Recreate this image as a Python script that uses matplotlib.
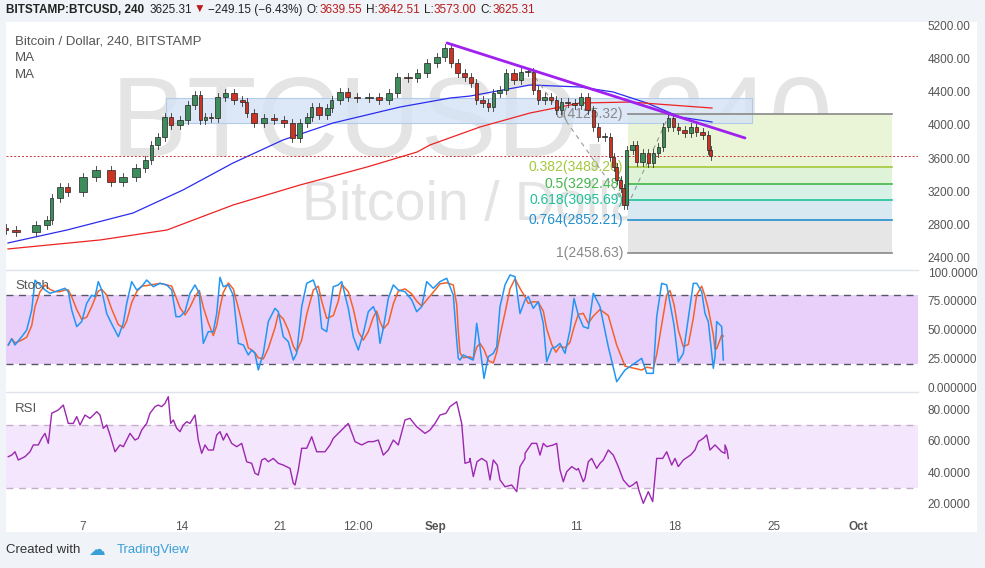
import matplotlib
matplotlib.use("Agg")
import matplotlib.pyplot as plt
import numpy as np

plt.rcParams['font.family'] = ['Liberation Sans', 'DejaVu Sans']
W, H = 985, 568
# ---------------- data (x positions in reference pixels, converted to days) ----------------
t_px = [8,20,40,50,53,63,70,87,100,115,127,140,148,153,160,167,173,183,190,197,202,207,213,220,228,237,245,248,257,267,
        277,287,295,302,310,313,322,330,333,343,350,360,373,382,392,400,412,420,430,440,447,453,460,467,473,478,485,490,495,502,
        508,517,523,530,535,540,547,553,558,563,570,577,583,590,595,600,607,612,615,618,622,625,628,635,638,645,650,655,660,665,
        670,675,680,687,693,698,705,710,712]
closes = [2736,2712,2796,2856,3120,3253,3193,3373,3457,3313,3373,3481,3577,3758,3854,4094,3998,4058,4238,4358,4058,4094,4082,4334,4382,4298,4274,4142,4022,4082,
          4058,4022,3842,4022,4094,4214,4118,4202,4298,4394,4334,4322,4334,4298,4382,4575,4563,4623,4743,4815,4924,4743,4623,4575,4503,4298,4262,4214,4382,4419,
          4623,4539,4635,4635,4419,4298,4334,4298,4178,4274,4262,4238,4334,4178,3974,3854,3854,3613,3493,3337,3241,3036,3697,3758,3553,3661,3541,3661,3734,3974,
          4082,3974,3938,3902,3974,3914,3878,3697,3625]
first_open = 2760

ma_blue_px = [8,67,133,183,233,283,333,400,450,470,530,580,613,647,680,712]
ma_blue = [2580,2736,2940,3217,3541,3818,4022,4214,4322,4346,4479,4455,4395,4262,4094,4034]
ma_red_px = [8,100,167,233,300,367,417,430,480,530,580,630,712]
ma_red = [2508,2616,2736,3036,3277,3493,3673,3758,3974,4142,4262,4274,4202]

stoch_px = [8.3,11.7,15,21.7,26.7,31.7,35,40,45,50,55,60,65,68.3,71.7,76.7,81.7,86.7,91.7,95,98.3,101.7,106.7,111.7,118.3,123.3,126.7,131.7,136.7,141.7,
            146.7,153.3,160,166.7,171.7,176,180,185,190,195,199.3,203.3,208.3,213.3,216.7,220,223.3,228.3,233.3,238.3,243.3,248.3,251.7,255,258.3,263.3,268.3,275,278.3,283.3,
            288.3,293.3,296.7,301.7,306.7,313.3,318.3,321.7,326.7,333.3,338.3,341.7,348.3,353.3,358.3,363.3,368.3,373.3,376.7,380,383.3,388.3,393.3,398.3,405,411.7,416.7,421.7,426.7,433.3,
            440,446.7,453.3,456.7,458.3,463.3,469.3,
            460,466.7,473.3,476.7,480,484,488.3,493.3,496.7,500,505,510,515,520,525,528.3,533.3,538.3,543.3,546.7,551.7,556,560,565,570,574,578.3,583.3,588.3,593.3,
            600,608.3,616.7,625,641.7,646.7,653.3,656.7,661.7,666.7,670,674,678.3,683.3,688.3,693.3,696.7,701.7,705,708.3,713.3,715,716.7,721.7,723.3]
stoch_k = [36.6,42,36.6,43.8,49.6,67,93,89,84.5,81.6,83,84.5,86,83,67,52.6,57,72.9,80,78.7,91.8,84.5,64,55,43.8,55.5,72.9,91.8,84.5,87.4,
           93.2,87.4,90.3,88.9,84.5,61.3,61.3,65.6,81.6,88.9,81.6,38,48.2,48.2,64,95.5,87.4,88.9,80,38,36.6,27.9,32.2,29.3,14.8,29.3,57,68.5,65.6,43.8,
           39.5,23.5,29.3,70,90.3,93.2,80,51,48.2,87.4,88.9,91.8,68.5,43.8,32.2,46.7,65.6,70,62.7,38,51,77.2,88.9,84.5,83,75.8,65.6,70,91.8,86,
           91.8,94.7,80,40.9,25,27.9,25,
           23.5,26.4,23.5,55.5,35,7.5,26.4,29.3,35,70,88.9,97.6,96.1,64,75.8,78.7,68.5,74.3,55.5,22,33.7,35,38,29.3,49.6,77.2,62.7,52.6,51,81.6,
           70,35,4.6,14.8,25,11.9,11.9,61.3,90.3,88.9,72.9,54,22,29.3,59.8,90.3,90.3,83,64,57,16.3,26.4,57,52.6,23.5,23.5,26.4,14.8,10.5]

rsi_px = [8.3,11.7,15,18.3,25,30,33.3,38.3,41.7,45,48.3,51.7,58.3,63.3,68.3,73.3,76.7,80,85,90,96.7,100,103.3,106.7,110,115,120,123.3,126.7,130,
          135,138.3,141.7,146.7,150,155,158.3,161.7,165,168.3,170.7,173.3,176.7,180,183.3,186.7,190,195,198.3,201.7,205,208.3,213.3,216.7,220,223.3,226.7,231.7,236.7,241.7,
          246.7,251.7,255,258.3,261.7,265,268.3,273.3,278.3,283.3,290,293.3,295,298.3,301.7,306.7,311.7,316.7,325,330,333.3,340,343.3,348.3,353.3,355,361.7,368.3,
          373.3,378.3,383.3,388.3,393.3,398.3,405,410,416.7,425,430,435,440,446,450,456.7,461.7,465,470,
          470,473.3,477,481.7,486.7,490,493.3,497.3,500,505,511.7,516.7,520,525,525,531.7,536.7,540,543.3,546.7,553.3,556.7,560,563.3,566.7,571.7,576.7,578.3,583.3,585,
          588.3,591.7,596.7,600,603.3,608.3,613.3,618.3,623.3,629.3,632.7,636.7,639.3,643.3,648.3,652.7,656.7,662.7,666.7,671.7,675,678.3,683.3,690.7,695,698.3,703.3,706.7,710,715,
          721.7,725,727,725,728.3]
rsi = [49.9,50.9,53,47.8,49.9,53,57.3,57.3,61.5,64.6,58.3,77.3,79.4,82.5,70.9,70.9,75.2,69.9,76.2,74.1,78.3,76.2,67.8,69.9,63.6,53,57.3,56.2,60.4,64.6,
       60.4,61.5,66.7,70.9,77.3,81.5,82.5,81.5,83.6,87.8,70.9,73.1,67.8,65.7,69.9,72,70.9,76.2,60.4,52,57.3,54.1,54.1,63.6,65.7,60.4,64.6,58.3,56.2,58.3,
       46.7,45.7,39.4,38.3,47.8,48.8,46.7,48.8,45.7,44.6,42.5,33.1,32,41.5,55.2,55.2,62.5,53,53,57.3,61.5,65.7,67.8,70.9,62.5,59.4,57.3,59.4,
       59.4,60.4,50.9,54.1,60.4,57.3,73.1,74.1,68.8,64.6,66.7,70.9,76.2,77.3,81.5,84.6,70.9,45.7,46.7,48.8,37.3,
       46.7,48.8,46.7,35.2,47.8,44.6,35.2,30.9,32,27.8,43.6,48.8,52,58.3,58.3,50.9,58.3,56.2,57.3,58.3,41.5,34.1,40.4,43.6,41.5,42.5,34.1,36.2,46.7,48.8,
       42.5,45.7,47.8,54.1,50.9,43.6,35.2,30.9,32,34.1,27.8,20.4,27.8,21.5,48.8,48.8,53,44.6,48.8,43.6,47.8,51,54.1,59.4,61.5,63.6,54.1,57.3,53,52,
       54.1,57.3,48.8,51,48.8,38.9,38.9]

fib_ratios = [0, 0.382, 0.5, 0.618, 0.764, 1]
fib_prices = [4125.32, 3489.20, 3292.48, 3095.69, 2852.21, 2458.63]
price_ticks = [2400, 2800, 3200, 3600, 4000, 4400, 4800, 5200]
date_ticks = [6, 13, 20, 25.5, 31, 41, 48, 55, 61]
date_labels = ["7", "14", "21", "12:00", "Sep", "11", "18", "25", "Oct"]
header_parts = [("BITSTAMP:BTCUSD, 240", "#222222", "bold"), ("3625.31", "#222222", "normal"),
                ("▼", "#b71c1c", "normal"), ("−249.15 (−6.43%)", "#222222", "normal"),
                ("O:", "#222222", "normal"), ("3639.55", "#b71c1c", "normal"),
                ("H:", "#222222", "normal"), ("3642.51", "#b71c1c", "normal"),
                ("L:", "#222222", "normal"), ("3573.00", "#b71c1c", "normal"),
                ("C:", "#222222", "normal"), ("3625.31", "#b71c1c", "normal")]
header_gap = [0, 5, 2, 3, 4, 0, 4, 0, 4, 0, 4, 0]

# ---------------- helpers ----------------
def px2t(x):
    return (np.asarray(x, float) + 2) / 14.1

fig = plt.figure(figsize=(W/100, H/100), dpi=100)
fig.patch.set_facecolor("#f0f3f7")

def ax_at(x0, y0, x1, y1):
    return fig.add_axes([x0/W, 1-y1/H, (x1-x0)/W, (y1-y0)/H])

XL = (px2t(6), px2t(918))
bg = ax_at(6, 22, 977, 532)
bg.set_facecolor("white"); bg.set_xticks([]); bg.set_yticks([])
for s in bg.spines.values(): s.set_visible(False)

ax = ax_at(6, 22, 918, 270)
ax2 = ax_at(6, 270, 918, 392)
ax3 = ax_at(6, 392, 918, 515)
for a in (ax, ax2, ax3):
    a.set_xlim(*XL)
    a.patch.set_alpha(0)
    for s in a.spines.values(): s.set_visible(False)
    a.yaxis.tick_right()
    a.tick_params(axis="y", length=0, labelsize=8.5, labelcolor="#555555", pad=7)
    a.tick_params(axis="x", length=0, labelsize=8.5, labelcolor="#555555")
    a.set_xticks([])
for yy in (270, 392):
    fig.add_artist(plt.Line2D([6/W, 918/W], [1-yy/H]*2, color="#e0e3eb", lw=1))

# ---------------- main price panel ----------------
ax.set_ylim(5200 - (270-25)*12.02, 5200 + 3*12.02)
ax.set_yticks(price_ticks)
ax.set_yticklabels([f"{p:.2f}" for p in price_ticks])

ax.text(466/912, 0.58, "BTCUSD, 240", transform=ax.transAxes, ha="center", va="center",
        fontsize=82, color="#e4e4e4", zorder=0)
ax.text(475/912, 0.26, "Bitcoin / Dollar", transform=ax.transAxes, ha="center", va="center",
        fontsize=40, color="#e4e4e4", zorder=0)

fx0, fx1 = px2t(628), px2t(892)
fill_cols = ["#eaf4d6", "#def3d8", "#d8f1e7", "#d9e9f2", "#e6e6e6"]
line_cols = ["#888888", "#a5c93c", "#43b649", "#20c19a", "#2390d0", "#888888"]
for i in range(5):
    ax.fill_between([fx0, fx1], fib_prices[i+1], fib_prices[i], color=fill_cols[i], zorder=1, lw=0)
for r, p, c in zip(fib_ratios, fib_prices, line_cols):
    ax.plot([fx0, fx1], [p, p], color=c, lw=1.2, zorder=2)
    ax.text(px2t(623), p, f"{r:g}({p:.2f})", color=c, fontsize=10, ha="right", va="center", zorder=2)

ax.fill_between([px2t(166), px2t(752)], 4022, 4322, color="#d4e3f5", alpha=0.8, zorder=1, lw=0)
ax.plot([px2t(166), px2t(752), px2t(752), px2t(166), px2t(166)], [4022, 4022, 4322, 4322, 4022],
        color="#b3cbe8", lw=0.8, zorder=1)

ax.plot(px2t(ma_blue_px), ma_blue, color="#2b2bf0", lw=0.9, zorder=3)
ax.plot(px2t(ma_red_px), ma_red, color="#ee2222", lw=0.9, zorder=3)

tt = px2t(t_px)
opens = [first_open] + closes[:-1]
gaps = np.diff(np.concatenate([[tt[0] - 0.5], tt]))
for ti, g, o, c in zip(tt, gaps, opens, closes):
    up = c >= o
    fc = "#3c8c5c" if up else "#cc3322"
    lo, hi = min(o, c), max(o, c)
    w = min(max(0.65 * g, 0.18), 0.55)
    ax.plot([ti - w/2, ti - w/2], [lo - 45, hi + 45], color="#333333", lw=0.6, zorder=4)
    ax.add_patch(plt.Rectangle((ti - w, lo), w, max(hi - lo, 8), facecolor=fc,
                               edgecolor="#222222", lw=0.5, zorder=5))

ax.axhline(3625.31, color="#cc3333", lw=0.7, ls=(0, (2, 2)), zorder=3)
ax.plot([px2t(530), px2t(627), px2t(670)], [4659, 3012, 4142], color="#999999", lw=0.8,
        ls=(0, (4, 4)), zorder=3)
ax.plot([px2t(447), px2t(745)], [4984, 3842], color="#a020f0", lw=2, zorder=6, solid_capstyle="round")

ax.text(9/912, 1-19/248, "Bitcoin / Dollar, 240, BITSTAMP", transform=ax.transAxes,
        fontsize=9.5, color="#555555", va="center")
ax.text(9/912, 1-36/248, "MA", transform=ax.transAxes, fontsize=9.5, color="#555555", va="center")
ax.text(9/912, 1-53/248, "MA", transform=ax.transAxes, fontsize=9.5, color="#555555", va="center")

# ---------------- stochastic ----------------
def sv(y):
    return (387 - y) / 1.148
ax2.set_ylim(sv(392), sv(270))
ax2.set_yticks([0, 25, 50, 75, 100])
ax2.set_yticklabels(["0.000000", "25.00000", "50.00000", "75.00000", "100.0000"])
ax2.axhspan(20, 80, color="#e9d0fb", lw=0, zorder=0)
for lv in (20, 80):
    ax2.axhline(lv, color="#555566", lw=1, ls=(0, (5, 4)))
st_t = px2t(stoch_px)
order = np.argsort(st_t, kind="stable")
kk = np.array(stoch_k)[order]; st_t = st_t[order]
dd = np.convolve(kk, np.ones(3)/3, mode="full")[:len(kk)]
dd[:2] = kk[:2]
ax2.plot(st_t, dd, color="#f4622a", lw=1.1)
ax2.plot(st_t, kk, color="#2196f3", lw=1.1)
ax2.text(9/912, 1-16/122, "Stoch", transform=ax2.transAxes, fontsize=9.5, color="#555555", va="center")

# ---------------- RSI ----------------
def rv(y):
    return 20 + (504 - y) / 1.583
ax3.set_ylim(rv(515), rv(392))
ax3.set_yticks([20, 40, 60, 80])
ax3.set_yticklabels(["20.0000", "40.0000", "60.0000", "80.0000"])
ax3.axhspan(30, 70, color="#f4e6fc", lw=0, zorder=0)
for lv in (30, 70):
    ax3.axhline(lv, color="#c4aecb", lw=1, ls=(0, (5, 4)))
r_t = px2t(rsi_px)
ro = np.argsort(r_t, kind="stable")
ax3.plot(r_t[ro], np.array(rsi)[ro], color="#9c27b0", lw=1)
ax3.text(9/912, 1-17/123, "RSI", transform=ax3.transAxes, fontsize=9.5, color="#555555", va="center")

ax3.set_xticks(date_ticks)
ax3.set_xticklabels(date_labels)
ax3.tick_params(axis="x", pad=4)
for lbl in ax3.get_xticklabels():
    if lbl.get_text() in ("Sep", "Oct"):
        lbl.set_fontweight("bold")

# ---------------- header (laid out sequentially) ----------------
renderer = fig.canvas.get_renderer()
hy = 1 - 10/H
xcur = 6
for (s, c, wt), g in zip(header_parts, header_gap):
    xcur += g
    tx = fig.text(xcur/W, hy, s, fontsize=8.5, color=c, fontweight=wt, va="center",
                  family=["Liberation Sans", "DejaVu Sans"])
    xcur += tx.get_window_extent(renderer).width

fig.text(6/W, 1-550/H, "Created with", fontsize=9.5, color="#333333", va="center")
fig.text(117/W, 1-550/H, "TradingView", fontsize=9.5, color="#3a9fd8", va="center")
fig.text(88/W, 1-550/H, "☁", fontsize=12, color="#3a9fd8", va="center", family="DejaVu Sans")

fig.savefig("out.png", dpi=100, facecolor=fig.get_facecolor())
